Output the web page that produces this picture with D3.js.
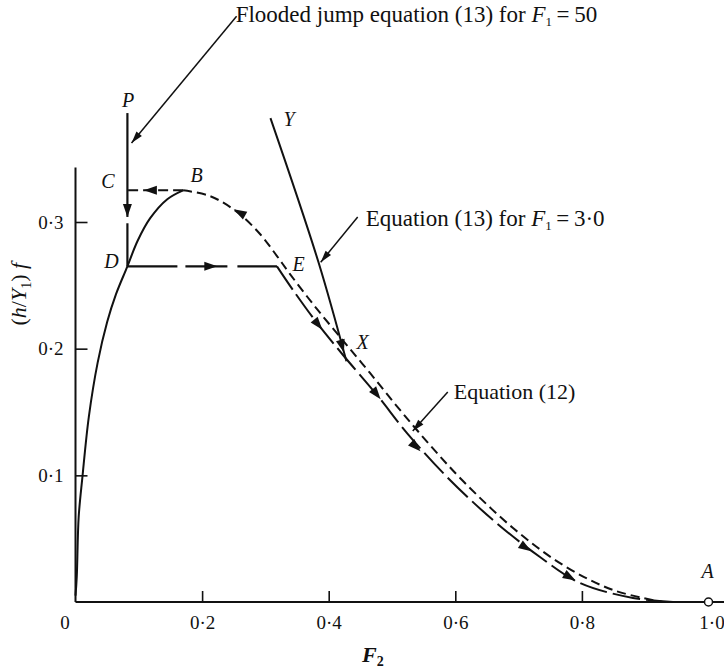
<!DOCTYPE html>
<html><head><meta charset="utf-8">
<script src="https://cdn.jsdelivr.net/npm/d3@7/dist/d3.min.js"></script>
<style>
body{margin:0;background:#fff}
svg{display:block}
text{font-family:"Liberation Serif","Times New Roman",serif;fill:#111}
</style>
</head><body>
<svg id="c" width="724" height="672"></svg>
<script>
// ---- data ----
const xTickValues = [0, 0.2, 0.4, 0.6, 0.8, 1.0];
const xTickLabels = ["0", "0·2", "0·4", "0·6", "0·8", "1·0"];
const yTickValues = [0.1, 0.2, 0.3];
const yTickLabels = ["0·1", "0·2", "0·3"];

// Equation (12): solid branch O -> D -> B
const eq12Solid = [[0,0.005],[0.002,0.02],[0.005,0.067],[0.011,0.099],[0.021,0.146],[0.035,0.189],[0.05,0.221],[0.064,0.243],[0.082,0.265],[0.098,0.285],[0.118,0.303],[0.145,0.318],[0.170,0.325]];
// Equation (12): dashed branch B -> A
const eq12Dashed = [[0.170,0.325],[0.2125,0.3205],[0.2551,0.3079],[0.2915,0.2905],[0.3183,0.2731],[0.3389,0.2589],[0.3752,0.2352],[0.4179,0.2092],[0.4652,0.1808],[0.5126,0.1516],[0.5600,0.1239],[0.6122,0.0955],[0.6912,0.0584],[0.7701,0.0292],[0.8491,0.0095],[0.9281,0.0]];
// path E -> X -> A
const pathEA = [[0.3183,0.265],[0.3436,0.2463],[0.3815,0.2203],[0.4226,0.1950],[0.4763,0.1634],[0.5237,0.1334],[0.5869,0.0987],[0.6596,0.0647],[0.7338,0.0355],[0.7970,0.0150],[0.8807,0.0032],[0.9439,0.0]];
// jump lines
const lineBC = [[0.170,0.325],[0.082,0.325]];
const linePC = [[0.082,0.386],[0.082,0.304]];
const lineCD = [[0.082,0.299],[0.082,0.265]];
const lineDE = [[0.082,0.265],[0.3183,0.265]];
// Equation (13) for F1 = 3.0 (Y -> X)
const eq13F3 = [[0.308,0.382],[0.384,0.268],[0.428,0.19]];
const pointA = [1.0, 0];

// direction arrows: tip position and a point towards which they point
const flowArrows = [
  {at:[0.082,0.304], to:[0.082,0.2]},
  {at:[0.108,0.325], to:[0.0,0.325]},
  {at:[0.250,0.310], to:[0.2125,0.3205]},
  {at:[0.224,0.265], to:[0.4,0.265]},
  {at:[0.390,0.215], to:[0.4226,0.1950]},
  {at:[0.482,0.160], to:[0.5237,0.1334]},
  {at:[0.545,0.119], to:[0.5869,0.0987]},
  {at:[0.720,0.040], to:[0.7338,0.0355]},
  {at:[0.790,0.017], to:[0.7970,0.0150]},
  {at:[0.424,0.197], to:[0.428,0.19]}
];

// annotations (data coordinates)
const notes = [
  {from:[0.2545,0.4625], to:[0.0885,0.3623], text:"Flooded jump equation (13) for ", sub:"\u2009=\u200950", tx:0.2530, ty:0.4578, fs:23},
  {from:[0.4458,0.3039], to:[0.3874,0.2683], text:"Equation (13) for ", sub:"\u2009=\u20093·0", tx:0.4585, ty:0.2968, fs:23},
  {from:[0.5881,0.1657], to:[0.5328,0.1350], text:"Equation (12)", sub:null, tx:0.5976, ty:0.1602, fs:22}
];
const pointLabels = [
  {t:"P", p:[0.0830,0.3908]}, {t:"C", p:[0.0513,0.3268]}, {t:"B", p:[0.1912,0.3316]},
  {t:"D", p:[0.0569,0.2637]}, {t:"E", p:[0.3523,0.2613]}, {t:"Y", p:[0.3373,0.3758]},
  {t:"X", p:[0.4534,0.1997]}, {t:"A", p:[0.9984,0.0189]}
];

// ---- drawing ----
const svg = d3.select("#c");
const x = d3.scaleLinear().domain([0,1]).range([75.5,708.5]);
const y = d3.scaleLinear().domain([0,0.3]).range([602,222]);
const line = d3.line().x(d=>x(d[0])).y(d=>y(d[1]));
const smooth = d3.line().x(d=>x(d[0])).y(d=>y(d[1])).curve(d3.curveCatmullRom.alpha(0.5));

// axes
const gx = svg.append("g").attr("transform",`translate(0,${y(0)})`)
  .call(d3.axisBottom(x).tickValues(xTickValues).tickSize(-11).tickPadding(14)
        .tickFormat((d,i)=>xTickLabels[i]));
gx.select(".domain").remove();
gx.selectAll(".tick line").attr("stroke","#111").attr("stroke-width",1.6);
gx.selectAll(".tick").filter(d=>d===0||d===1).select("line").remove();
gx.selectAll(".tick").filter(d=>d===0).select("text").attr("x",-11);
gx.selectAll(".tick").filter(d=>d===1).select("text").attr("x",3);
gx.selectAll("text").attr("font-size",19).attr("font-family","Liberation Serif").attr("fill","#111");

const gy = svg.append("g").attr("transform",`translate(${x(0)},0)`)
  .call(d3.axisLeft(y).tickValues(yTickValues).tickSize(-12).tickPadding(12)
        .tickFormat((d,i)=>yTickLabels[i]));
gy.select(".domain").remove();
gy.selectAll(".tick line").attr("stroke","#111").attr("stroke-width",1.6);
gy.selectAll("text").attr("font-size",19).attr("font-family","Liberation Serif").attr("fill","#111");

svg.append("path").attr("d",line([[0,0],[1.03,0]])).attr("stroke","#111").attr("stroke-width",2).attr("fill","none");
svg.append("path").attr("d",line([[0,0],[0,0.343]])).attr("stroke","#111").attr("stroke-width",2).attr("fill","none");

// axis titles
const xt = svg.append("text").attr("x",362).attr("y",662).attr("font-size",22).attr("font-style","italic").attr("font-weight","bold");
xt.append("tspan").text("F");
xt.append("tspan").attr("font-size",14).attr("dy",4).attr("font-style","normal").text("2");

const yt = svg.append("text").attr("transform",`translate(26,${y(0.243)}) rotate(-90)`)
  .attr("text-anchor","middle").attr("font-size",22);
yt.append("tspan").text("(");
yt.append("tspan").attr("font-style","italic").text("h");
yt.append("tspan").text("/");
yt.append("tspan").attr("font-style","italic").text("Y");
yt.append("tspan").attr("font-size",14).attr("dy",5).text("1");
yt.append("tspan").attr("dy",-5).text(") ");
yt.append("tspan").attr("font-style","italic").text("f");

// curves
const stroke = (sel,w,dash)=>sel.attr("fill","none").attr("stroke","#111").attr("stroke-width",w).attr("stroke-dasharray",dash||null);
stroke(svg.append("path").attr("d",smooth(eq12Solid)),2);
stroke(svg.append("path").attr("d",smooth(eq12Dashed)),2,"9,5");
stroke(svg.append("path").attr("d",smooth(pathEA)),2,"28,6");
stroke(svg.append("path").attr("d",line(lineBC)),2,"10,5");
stroke(svg.append("path").attr("d",line(linePC)),2.2);
stroke(svg.append("path").attr("d",line(lineCD)),2.2);
stroke(svg.append("path").attr("d",line(lineDE)),2.2,"50,8,42,10,40,0");
stroke(svg.append("path").attr("d",smooth(eq13F3)),2);

// flow arrowheads
svg.selectAll(".fa").data(flowArrows).join("path").attr("class","fa")
  .attr("d","M0,0 L-13,-4.5 L-13,4.5 Z").attr("fill","#111")
  .attr("transform",d=>{
    const a = Math.atan2(y(d.to[1])-y(d.at[1]), x(d.to[0])-x(d.at[0]))*180/Math.PI;
    return `translate(${x(d.at[0])},${y(d.at[1])}) rotate(${a})`;
  });

// point A
svg.append("circle").attr("cx",x(pointA[0])).attr("cy",y(pointA[1])).attr("r",4)
  .attr("fill","#fff").attr("stroke","#111").attr("stroke-width",1.5);

// point labels
svg.selectAll(".pl").data(pointLabels).join("text").attr("class","pl")
  .attr("x",d=>x(d.p[0])).attr("y",d=>y(d.p[1])).attr("text-anchor","middle")
  .attr("font-size",20).attr("font-style","italic").text(d=>d.t);

// annotations
notes.forEach(n=>{
  svg.append("path").attr("d",line([n.from,n.to])).attr("stroke","#111").attr("stroke-width",1.5).attr("fill","none");
  const a = Math.atan2(y(n.to[1])-y(n.from[1]), x(n.to[0])-x(n.from[0]))*180/Math.PI;
  svg.append("path").attr("d","M0,0 L-12,-3.5 L-12,3.5 Z").attr("fill","#111")
    .attr("transform",`translate(${x(n.to[0])},${y(n.to[1])}) rotate(${a})`);
  const t = svg.append("text").attr("x",x(n.tx)).attr("y",y(n.ty)).attr("font-size",n.fs);
  t.append("tspan").text(n.text);
  if(n.sub){
    t.append("tspan").attr("font-style","italic").text("F");
    t.append("tspan").attr("font-size",13).attr("dy",4).text("1");
    t.append("tspan").attr("dy",-4).text(n.sub);
  }
});
</script>
</body></html>
